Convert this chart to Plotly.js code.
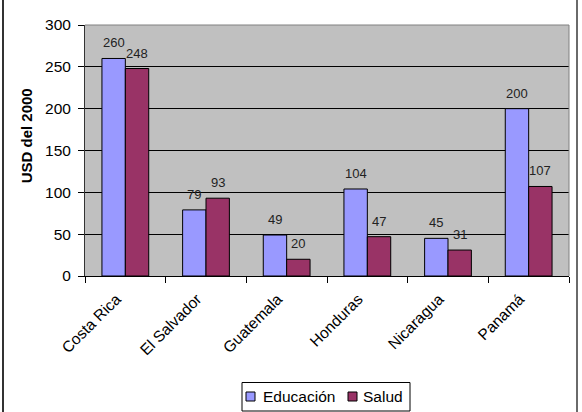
<!DOCTYPE html>
<html>
<head>
<meta charset="utf-8">
<script src="https://cdn.plot.ly/plotly-3.0.1.min.js"></script>
<style>
  html, body { margin: 0; padding: 0; background: #fff; }
  #wrap { position: relative; width: 582px; height: 412px; }
  #chart { width: 582px; height: 412px; }
  .edge { position: absolute; top: 0; width: 2px; height: 412px; }
  #edgeL { left: 2px; background: #333; }
  #edgeR { left: 576px; background: #6a6a6a; }
</style>
</head>
<body>
<div id="wrap">
  <div id="chart"></div>
  <div class="edge" id="edgeL"></div>
  <div class="edge" id="edgeR"></div>
</div>
<script>
// Gasto público por habitante (USD del 2000)
const paises = ["Costa Rica", "El Salvador", "Guatemala", "Honduras", "Nicaragua", "Panamá"];
const educacion = [260, 79, 49, 104, 45, 200];
const salud = [248, 93, 20, 47, 31, 107];
const yTicks = [0, 50, 100, 150, 200, 250, 300];
const series = [
  { name: "Educación", values: educacion, color: "#9999FF" },
  { name: "Salud", values: salud, color: "#993366" }
];

const font = "Liberation Sans, Arial, sans-serif";

// plot area in pixels, used to place the hand-drawn legend box
const M = { l: 85, r: 13, t: 25, b: 136 };
const W = 582, H = 412;
const pw = W - M.l - M.r, ph = H - M.t - M.b;
const px = x => (x - M.l) / pw;
const py = y => (H - M.b - y) / ph;

const BARGAP = 0.42;
const barPx = pw / paises.length * (1 - BARGAP) / series.length;

const traces = series.map(s => ({
  type: "bar", name: s.name, x: paises, y: s.values,
  marker: { color: s.color, line: { color: "#000", width: 1 } },
  showlegend: false, hoverinfo: "skip"
}));

// legend: framed box with a square swatch and a label per series
const legendItems = [
  { sx: 246, tx: 262 },
  { sx: 348, tx: 362 }
];
const shapes = [
  { type: "line", xref: "paper", yref: "paper", x0: 0, x1: 1, y0: 1, y1: 1,
    line: { color: "#808080", width: 1 } },
  { type: "line", xref: "paper", yref: "paper", x0: 1, x1: 1, y0: 0, y1: 1,
    line: { color: "#808080", width: 1 } },
  { type: "rect", xref: "paper", yref: "paper",
    x0: px(242), x1: px(410), y0: py(411), y1: py(382.5),
    fillcolor: "#fff", line: { color: "#000", width: 1 } }
];
const annotations = [
  { text: "<b>USD del 2000</b>", textangle: -90, xref: "paper", yref: "paper",
    x: -0.12, y: 0.56, xanchor: "center", yanchor: "middle", showarrow: false,
    font: { family: font, size: 15, color: "#000" } }
];
series.forEach((s, i) => {
  const it = legendItems[i];
  shapes.push({ type: "rect", xref: "paper", yref: "paper",
    x0: px(it.sx), x1: px(it.sx + 9), y0: py(401), y1: py(392),
    fillcolor: s.color, line: { color: "#000", width: 1 } });
  annotations.push({ text: s.name, xref: "paper", yref: "paper",
    x: px(it.tx), y: py(396.5), xanchor: "left", yanchor: "middle",
    showarrow: false, borderpad: 0,
    font: { family: font, size: 15.5, color: "#000" } });
  // value labels above each bar of this series
  const off = (i - (series.length - 1) / 2) * barPx;
  paises.forEach((p, j) => {
    annotations.push({ text: String(s.values[j]), xref: "x", yref: "y",
      x: p, y: s.values[j], xanchor: "center", yanchor: "bottom",
      xshift: off, yshift: 7, showarrow: false, borderpad: 0,
      font: { family: font, size: 13, color: "#222" } });
  });
});

const layout = {
  width: W, height: H,
  margin: M,
  paper_bgcolor: "#fff",
  plot_bgcolor: "#C0C0C0",
  font: { family: font, size: 15.5, color: "#000" },
  barmode: "group",
  bargap: BARGAP,
  bargroupgap: 0,
  showlegend: false,
  xaxis: {
    type: "category", tickangle: -45, tickson: "boundaries",
    ticks: "outside", ticklen: 6, tickcolor: "#000",
    ticklabelshift: -9, ticklabelstandoff: 7,
    showline: true, linecolor: "#000", linewidth: 1,
    showgrid: false, fixedrange: true, automargin: false,
    tickfont: { family: font, size: 15.5, color: "#000" }
  },
  yaxis: {
    range: [0, 300], tickvals: yTicks, ticktext: yTicks.map(String),
    ticks: "outside", ticklen: 6, tickcolor: "#000", ticklabelstandoff: 4,
    showline: true, linecolor: "#333", linewidth: 1,
    showgrid: true, gridcolor: "#000", gridwidth: 1,
    zeroline: false, fixedrange: true, automargin: false,
    tickfont: { family: font, size: 15.5, color: "#000" }
  },
  shapes: shapes,
  annotations: annotations
};

Plotly.newPlot("chart", traces, layout, { displayModeBar: false, staticPlot: true });
</script>
</body>
</html>
